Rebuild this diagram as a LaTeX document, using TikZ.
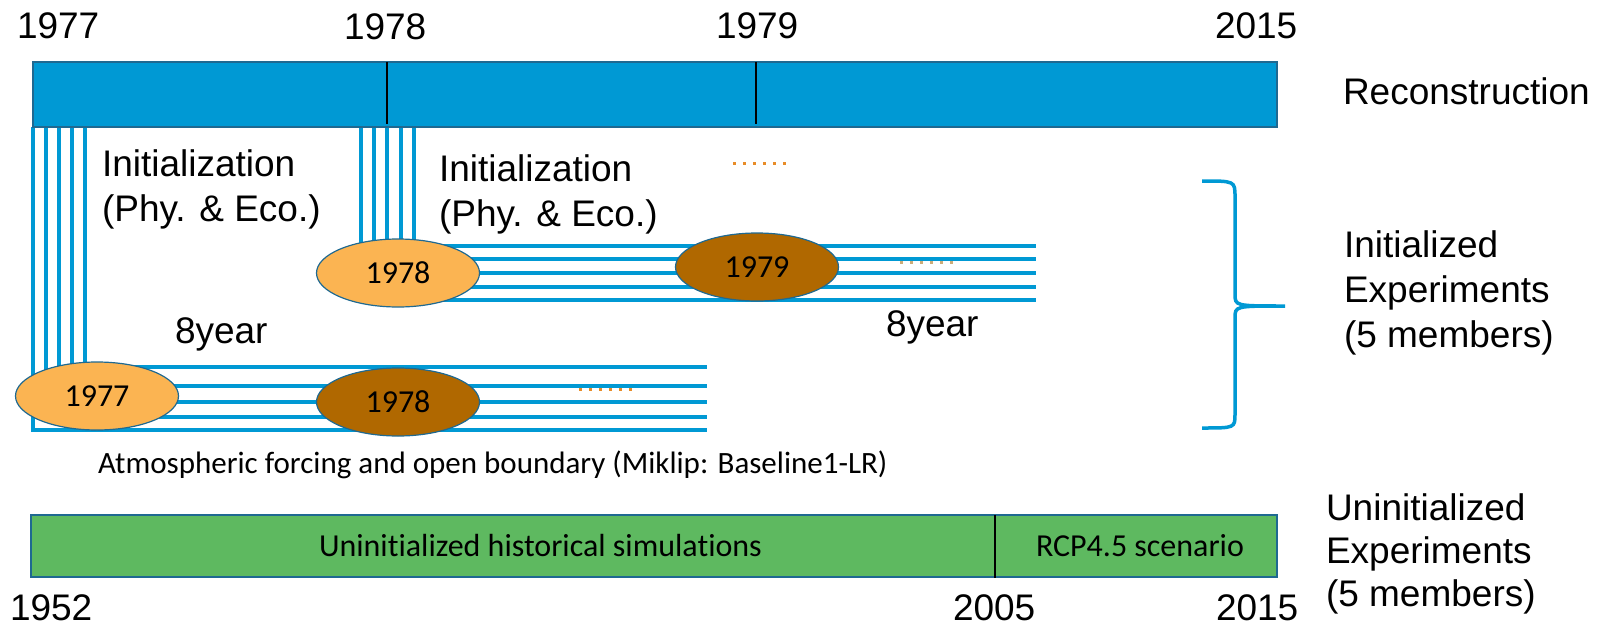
\documentclass[tikz,border=0pt]{standalone}
\usepackage{fontspec}
\setmainfont{Liberation Sans}
\newfontfamily\calfont[Ligatures=NoCommon]{Carlito}
\usepackage{xcolor}
\usetikzlibrary{shapes.geometric}
\definecolor{recblue}{RGB}{0,153,212}
\definecolor{edgeblue}{RGB}{31,105,145}
\definecolor{histgreen}{RGB}{94,185,96}
\definecolor{startorange}{RGB}{251,180,82}
\definecolor{nextbrown}{RGB}{176,104,0}
\definecolor{dotorange}{RGB}{232,140,40}
\definecolor{dottan}{RGB}{205,172,120}

\begin{document}
\begin{tikzpicture}[x=1pt, y=-1pt,
    every node/.style={inner sep=0pt, outer sep=0pt},
    big/.style={font=\fontsize{37}{44}\selectfont, anchor=base west},
    small/.style={font=\calfont\fontsize{31}{36}\selectfont, anchor=base west},
    member/.style={draw=recblue, line width=3.5pt},
    yearnode/.style={ellipse, draw=edgeblue, line width=1.2pt, minimum width=163pt, minimum height=68pt, font=\calfont\fontsize{32}{38}\selectfont},
    dots/.style={line width=3pt, dash pattern=on 3pt off 7pt},
    groupbrace/.style={draw=recblue, line width=3.5pt}]
    \useasboundingbox (0,0) rectangle (1597,626);

    % ensemble members
    \foreach \x/\y in {33/430, 46/417, 59/402, 72/386, 85/367}
        \draw[member] (\x,127) |- (707,\y);
    \foreach \x/\y in {361/300, 374/287, 387/273, 401/259, 414/246}
        \draw[member] (\x,127) |- (1036,\y);

    % reconstruction bar
    \filldraw[fill=recblue, draw=edgeblue, line width=1.2pt] (33,62) rectangle (1277,127);
    \draw[line width=1.5pt] (387,62) -- (387,124);
    \draw[line width=1.5pt] (756,62) -- (756,124);

    \node[big] (top1977) at (17,39) {1977};
    \node[big] (top1978) at (344,40) {1978};
    \node[big] (top1979) at (716,39) {1979};
    \node[big] (top2015) at (1215,38) {2015};
    \node[big] (recon) at (1343,104) {Reconstruction};

    \node[big] (initA) at (102,176) {Initialization};
    \node[big] (physA) at (102,221) {(Phy. \& Eco.)};
    \node[big] (initB) at (439,181) {Initialization};
    \node[big] (physB) at (439,226) {(Phy. \& Eco.)};
    \node[big] (leadA) at (175,343) {8year};
    \node[big] (leadB) at (886,336) {8year};

    \draw[dots, dotorange] (733,163) -- (787,163);
    \draw[dots, dottan] (900,262) -- (954,262);
    \draw[dots, dotorange] (579,389) -- (633,389);

    \node[yearnode, fill=startorange] (s1977) at (97,396) {1977};
    \node[yearnode, fill=nextbrown] (n1978) at (398,402) {1978};
    \node[yearnode, fill=startorange] (s1978) at (398,273) {1978};
    \node[yearnode, fill=nextbrown] (n1979) at (757,267) {1979};

    \draw[groupbrace] (1202,181) .. controls (1235,181) .. (1235,197) -- (1235,294)
        .. controls (1235,306) .. (1285,306) .. controls (1235,306) .. (1235,318)
        -- (1235,414) .. controls (1235,428) .. (1202,428);
    \node[big] (initexpA) at (1344,257) {Initialized};
    \node[big] (initexpB) at (1344,302) {Experiments};
    \node[big] (initexpC) at (1344,347) {(5 members)};

    \node[small] (forcing) at (98,473) {Atmospheric forcing and open boundary (Miklip: Baseline1-LR)};

    % uninitialized bar
    \filldraw[fill=histgreen, draw=edgeblue, line width=1.2pt] (31,515) rectangle (1277,577);
    \draw[line width=1.5pt] (995,515) -- (995,578);
    \node[small, font=\calfont\fontsize{32}{38}\selectfont] (hist) at (319,556) {Uninitialized historical simulations};
    \node[small, font=\calfont\fontsize{32}{38}\selectfont] (rcp) at (1036,556) {RCP4.5 scenario};

    \node[big] (bot1952) at (10,620) {1952};
    \node[big] (bot2005) at (953,620) {2005};
    \node[big] (bot2015) at (1216,620) {2015};
    \node[big] (uninitA) at (1326,520) {Uninitialized};
    \node[big] (uninitB) at (1326,563) {Experiments};
    \node[big] (uninitC) at (1326,606) {(5 members)};
\end{tikzpicture}
\end{document}
